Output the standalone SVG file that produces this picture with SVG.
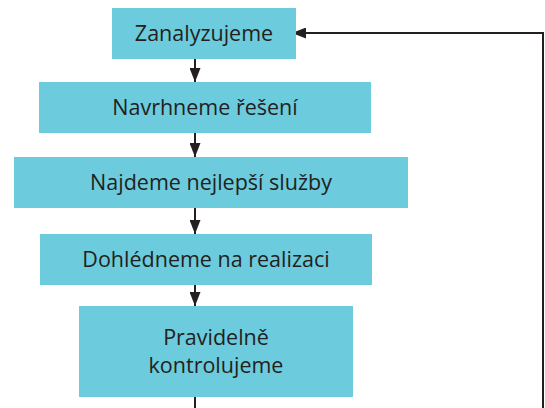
<svg xmlns="http://www.w3.org/2000/svg" width="545" height="408" viewBox="0 0 545 408">
<defs>
<marker id="ah" viewBox="0 0 14 11" refX="14" refY="5.5" markerWidth="14" markerHeight="11" markerUnits="userSpaceOnUse" orient="auto">
<path d="M0,0 L14,5.5 L0,11 Z" fill="#231f20"/>
</marker>
<style>
.box{fill:#6ccbdc}
.t{font-family:"Open Sans","Noto Sans",sans-serif;font-size:21.5px;fill:#231f20;text-anchor:middle}
.c{stroke:#231f20;stroke-width:2;fill:none}
</style>
</defs>
<rect width="545" height="408" fill="#fff"/>
<g id="connectors">
<line class="c" x1="195" y1="59" x2="195" y2="82" marker-end="url(#ah)"/>
<line class="c" x1="195" y1="133" x2="195" y2="157" marker-end="url(#ah)"/>
<line class="c" x1="195" y1="208" x2="195" y2="234" marker-end="url(#ah)"/>
<line class="c" x1="195" y1="285" x2="195" y2="306" marker-end="url(#ah)"/>
<polyline class="c" points="195,397 195,408"/>
<polyline class="c" points="543,408 543,33 292,33" marker-end="url(#ah)"/>
</g>
<g id="n1"><rect class="box" x="112" y="8" width="184" height="51"/><text class="t" x="204" y="41">Zanalyzujeme</text></g>
<g id="n2"><rect class="box" x="39" y="82" width="332" height="51"/><text class="t" x="205" y="115">Navrhneme řešení</text></g>
<g id="n3"><rect class="box" x="14" y="157" width="394" height="51"/><text class="t" x="211" y="190">Najdeme nejlepší služby</text></g>
<g id="n4"><rect class="box" x="40" y="234" width="332" height="51"/><text class="t" x="206" y="267">Dohlédneme na realizaci</text></g>
<g id="n5"><rect class="box" x="79" y="306" width="274" height="91"/><text class="t" x="216" y="345">Pravidelně</text><text class="t" x="216" y="373">kontrolujeme</text></g>
</svg>
